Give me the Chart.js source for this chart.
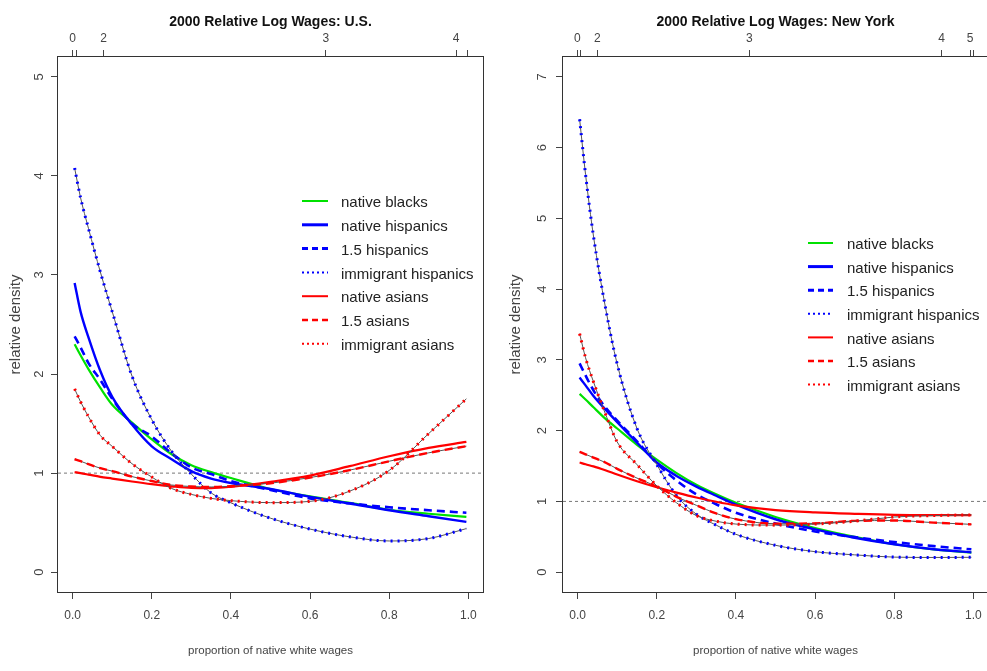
<!DOCTYPE html>
<html>
<head>
<meta charset="utf-8">
<script src="https://cdn.jsdelivr.net/npm/chart.js@4.4.1/dist/chart.umd.min.js"></script>
<style>
  html, body { margin: 0; padding: 0; background: #fff; overflow: hidden; }
  canvas { position: absolute; top: 0; }
  #usChart { left: 0; }
  #nyChart { left: 500px; }
</style>
</head>
<body>
<canvas id="usChart" width="500" height="671"></canvas>
<canvas id="nyChart" width="500" height="671"></canvas>
<script>
// proportion of native white wages at which the densities were read
var xGrid = [0.005, 0.02, 0.04, 0.07, 0.1, 0.15, 0.2, 0.25, 0.3, 0.35, 0.4, 0.5, 0.6, 0.7, 0.8, 0.9, 0.995];

var seriesNames = ['native blacks', 'native hispanics', '1.5 hispanics', 'immigrant hispanics',
                   'native asians', '1.5 asians', 'immigrant asians'];

// U.S.
var usNativeBlacks    = [2.30, 2.19, 2.05, 1.86, 1.69, 1.51, 1.34, 1.19, 1.08, 1.01, 0.95, 0.84, 0.765, 0.70, 0.63, 0.59, 0.558];
var usNativeHispanics = [2.92, 2.63, 2.37, 2.03, 1.77, 1.49, 1.27, 1.14, 1.02, 0.945, 0.90, 0.84, 0.76, 0.693, 0.625, 0.565, 0.508];
var us15Hispanics     = [2.38, 2.27, 2.11, 1.94, 1.75, 1.50, 1.37, 1.20, 1.057, 0.99, 0.92, 0.83, 0.745, 0.695, 0.655, 0.625, 0.60];
var usImmHispanics    = [4.08, 3.78, 3.47, 3.03, 2.63, 1.98, 1.54, 1.22, 0.99, 0.80, 0.70, 0.545, 0.435, 0.357, 0.315, 0.34, 0.44];
var usNativeAsians    = [1.01, 1.00, 0.985, 0.962, 0.945, 0.915, 0.888, 0.866, 0.85, 0.848, 0.862, 0.912, 0.975, 1.07, 1.17, 1.255, 1.315];
var us15Asians        = [1.14, 1.12, 1.09, 1.05, 1.02, 0.965, 0.92, 0.88, 0.865, 0.86, 0.868, 0.898, 0.955, 1.03, 1.12, 1.205, 1.272];
var usImmAsians       = [1.85, 1.72, 1.57, 1.38, 1.27, 1.095, 0.96, 0.845, 0.785, 0.745, 0.722, 0.702, 0.715, 0.818, 1.027, 1.40, 1.75];

// New York
var nyNativeBlacks    = [2.52, 2.44, 2.33, 2.17, 2.03, 1.80, 1.59, 1.40, 1.235, 1.10, 0.98, 0.78, 0.625, 0.50, 0.395, 0.322, 0.276];
var nyNativeHispanics = [2.75, 2.64, 2.49, 2.30, 2.12, 1.83, 1.55, 1.36, 1.21, 1.08, 0.955, 0.748, 0.605, 0.487, 0.395, 0.325, 0.28];
var ny15Hispanics     = [2.95, 2.78, 2.57, 2.33, 2.14, 1.85, 1.54, 1.295, 1.10, 0.96, 0.84, 0.687, 0.576, 0.495, 0.426, 0.368, 0.323];
var nyImmHispanics    = [6.40, 5.62, 4.75, 3.75, 2.94, 2.03, 1.52, 1.08, 0.82, 0.665, 0.535, 0.38, 0.29, 0.245, 0.213, 0.208, 0.21];
var nyNativeAsians    = [1.55, 1.525, 1.495, 1.44, 1.38, 1.285, 1.20, 1.125, 1.055, 0.995, 0.945, 0.878, 0.845, 0.825, 0.81, 0.807, 0.807];
var ny15Asians        = [1.70, 1.665, 1.62, 1.55, 1.46, 1.33, 1.21, 1.065, 0.945, 0.83, 0.75, 0.685, 0.69, 0.725, 0.73, 0.70, 0.676];
var nyImmAsians       = [3.37, 3.03, 2.69, 2.24, 1.84, 1.52, 1.22, 0.98, 0.80, 0.72, 0.68, 0.665, 0.68, 0.72, 0.78, 0.80, 0.81];

// axes
var xRange = [-0.037, 1.037];
var xTicks = [0, 0.2, 0.4, 0.6, 0.8, 1.0];
var refLevel = 1;
var usYRange = [-0.2, 5.2];
var usYTicks = [0, 1, 2, 3, 4, 5];
var nyYRange = [-0.28, 7.28];
var nyYTicks = [0, 1, 2, 3, 4, 5, 6, 7];
// log wage deciles shown on the top axis
var usTopTicks  = [0.0, 0.009, 0.078, 0.640, 0.969, 0.998];
var usTopLabels = ['0', '', '2', '3', '4', ''];
var nyTopTicks  = [-0.001, 0.006, 0.05, 0.434, 0.92, 0.992, 1.0];
var nyTopLabels = ['0', '', '2', '3', '4', '5', ''];

var fontFamily = "'Liberation Sans', Arial, sans-serif";
Chart.defaults.font.family = fontFamily;

var blue = 'rgb(0,0,255)', red = 'rgb(255,0,0)', green = 'rgb(0,225,0)';
var lineStyles = [
    {color: green, width: 2.2, dash: [],     underlay: false, legendWidth: 2,   legendDash: []},
    {color: blue,  width: 2.4, dash: [],     underlay: false, legendWidth: 3,   legendDash: []},
    {color: blue,  width: 2.6, dash: [8, 5], underlay: false, legendWidth: 3,   legendDash: [6, 4]},
    {color: blue,  width: 3,   dash: [2, 5], underlay: true,  legendWidth: 2,   legendDash: [2, 3]},
    {color: red,   width: 2.2, dash: [],     underlay: false, legendWidth: 2,   legendDash: []},
    {color: red,   width: 2.4, dash: [8, 5], underlay: true,  legendWidth: 2.5, legendDash: [6, 4]},
    {color: red,   width: 3,   dash: [2, 5], underlay: true,  legendWidth: 2,   legendDash: [2, 3]}
];

function makeSeries(values) {
    return xGrid.map(function (x, i) { return {x: x, y: values[i]}; });
}

var legendPlugin = {
    id: 'sideLegend',
    afterDatasetsDraw: function (chart, args, opts) {
        var ctx = chart.ctx;
        ctx.save();
        ctx.font = '15px ' + fontFamily;
        ctx.textBaseline = 'middle';
        ctx.fillStyle = '#222';
        seriesNames.forEach(function (name, i) {
            var st = lineStyles[i];
            var y = opts.top + i * opts.step;
            ctx.strokeStyle = st.color;
            ctx.lineWidth = st.legendWidth;
            ctx.setLineDash(st.legendDash);
            ctx.beginPath();
            ctx.moveTo(opts.x1, y - 2);
            ctx.lineTo(opts.x2, y - 2);
            ctx.stroke();
            ctx.setLineDash([]);
            ctx.fillText(name, opts.textX, y);
        });
        ctx.restore();
    }
};

var boxPlugin = {
    id: 'plotBox',
    afterDraw: function (chart) {
        var a = chart.chartArea, ctx = chart.ctx;
        ctx.save();
        ctx.strokeStyle = '#333';
        ctx.lineWidth = 1;
        ctx.strokeRect(Math.round(a.left) - 0.5, Math.round(a.top) - 0.5,
                       Math.round(a.right - a.left) + 1, Math.round(a.bottom - a.top) + 1);
        ctx.restore();
    }
};

function buildDensityChart(elementId, title, seriesValues, yRange, yTicks, topTicks, topLabels, frame) {
    var datasets = [];
    datasets.push({
        data: [{x: xRange[0], y: refLevel}, {x: xRange[1], y: refLevel}],
        borderColor: '#777', borderWidth: 1, borderDash: [3, 3]
    });
    seriesValues.forEach(function (values, i) {
        var st = lineStyles[i];
        if (st.underlay) {
            datasets.push({data: makeSeries(values), borderColor: '#555', borderWidth: 1});
        }
        datasets.push({
            data: makeSeries(values),
            borderColor: st.color,
            borderWidth: st.width,
            borderDash: st.dash
        });
    });
    datasets.forEach(function (d, i) { d.order = datasets.length - i; });

    var tickGrid = {drawOnChartArea: false, drawTicks: true, tickLength: 7, color: '#444'};
    var tickFont = {size: 12};

    var ctx1 = document.getElementById(elementId).getContext('2d');
    return new Chart(ctx1, {
        type: 'line',
        data: {datasets: datasets},
        options: {
            responsive: false,
            devicePixelRatio: 1,
            animation: false,
            elements: {point: {radius: 0}, line: {cubicInterpolationMode: 'monotone'}},
            layout: {padding: {left: 0, right: frame.padRight, top: 0, bottom: 0}},
            plugins: {
                legend: {display: false},
                tooltip: {enabled: false},
                title: {
                    display: true,
                    text: title,
                    fullSize: false,
                    color: '#111',
                    font: {size: 14, weight: 'bold', lineHeight: 1.2},
                    padding: {top: 13.6, bottom: 0}
                },
                sideLegend: frame.legend
            },
            scales: {
                x: {
                    type: 'linear', position: 'bottom',
                    min: xRange[0], max: xRange[1],
                    afterBuildTicks: function (s) { s.ticks = xTicks.map(function (v) { return {value: v}; }); },
                    afterFit: function (s) { s.height = 79; },
                    grid: tickGrid,
                    border: {display: false},
                    ticks: {
                        font: tickFont, color: '#444', padding: 9, maxRotation: 0, autoSkip: false,
                        callback: function (v) { return Number(v).toFixed(1); }
                    },
                    title: {
                        display: true, text: 'proportion of native white wages',
                        color: '#444', font: {size: 11.5, lineHeight: 1.2},
                        padding: {top: 0, bottom: 13}
                    }
                },
                x2: {
                    type: 'linear', position: 'top',
                    min: xRange[0], max: xRange[1],
                    afterBuildTicks: function (s) { s.ticks = topTicks.map(function (v) { return {value: v}; }); },
                    afterFit: function (s) { s.height = 57 - 30.4; },
                    grid: tickGrid,
                    border: {display: false},
                    ticks: {
                        font: tickFont, color: '#444', padding: 3.8, maxRotation: 0, autoSkip: false,
                        callback: function (v, i) { return topLabels[i]; }
                    }
                },
                y: {
                    type: 'linear', position: 'left',
                    min: yRange[0], max: yRange[1],
                    afterBuildTicks: function (s) { s.ticks = yTicks.map(function (v) { return {value: v}; }); },
                    afterFit: function (s) { s.width = frame.leftWidth; },
                    grid: tickGrid,
                    border: {display: false},
                    ticks: {
                        font: {size: 13}, color: '#444', padding: frame.yTickPadding,
                        minRotation: 90, maxRotation: 90, crossAlign: 'center', autoSkip: false,
                        callback: function (v) { return String(v); }
                    },
                    title: {
                        display: true, text: 'relative density',
                        color: '#444', font: {size: 15, lineHeight: 1.2},
                        padding: {top: 7, bottom: 0}
                    }
                }
            }
        },
        plugins: [legendPlugin, boxPlugin]
    });
}

buildDensityChart('usChart', '2000 Relative Log Wages: U.S.',
    [usNativeBlacks, usNativeHispanics, us15Hispanics, usImmHispanics, usNativeAsians, us15Asians, usImmAsians],
    usYRange, usYTicks, usTopTicks, usTopLabels,
    {leftWidth: 58, padRight: 17, yTickPadding: 8.4,
     legend: {x1: 302, x2: 328, textX: 341, top: 203, step: 23.8}});

buildDensityChart('nyChart', '2000 Relative Log Wages: New York',
    [nyNativeBlacks, nyNativeHispanics, ny15Hispanics, nyImmHispanics, nyNativeAsians, ny15Asians, nyImmAsians],
    nyYRange, nyYTicks, nyTopTicks, nyTopLabels,
    {leftWidth: 63, padRight: 12, yTickPadding: 10.4,
     legend: {x1: 308, x2: 333, textX: 347, top: 245, step: 23.6}});
</script>
</body>
</html>
